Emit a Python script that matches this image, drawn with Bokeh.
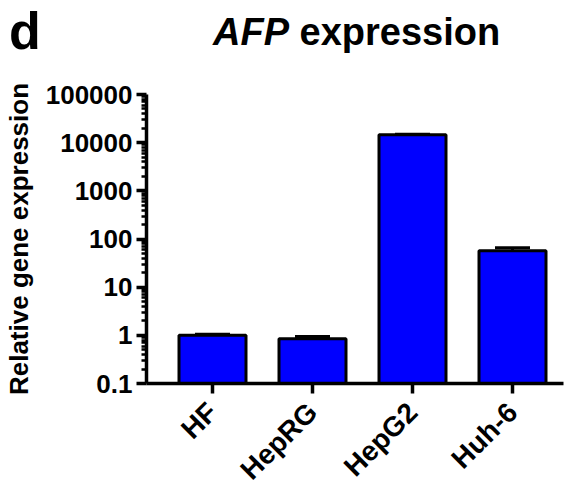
import math
from bokeh.plotting import figure
from bokeh.layouts import column
from bokeh.models import (ColumnDataSource, FixedTicker, CustomJSTickFormatter,
                          Range1d, Whisker, TeeHead, Div)
from bokeh.embed import file_html
from bokeh.resources import INLINE

categories = ["HF", "HepRG", "HepG2", "Huh-6"]
means = [1.0, 0.85, 14600, 57]
errors = [0.05, 0.1, 400, 9]
y_ticks = [0.1, 1, 10, 100, 1000, 10000, 100000]

panel_letter = "d"
title_italic = "AFP"
title_rest = "expression"

FONT = "Liberation Sans"
W = 564
TOP_H = 76

# ---- title strip (HTML text) -------------------------------------------
html = (
    f'<div style="position:relative;width:{W}px;height:{TOP_H}px;'
    f'font-family:\'{FONT}\';font-weight:bold;color:black;line-height:normal;">'
    f'<span style="position:absolute;left:9px;top:1px;font-size:52px;'
    f'white-space:nowrap;">{panel_letter}</span>'
    f'<span style="position:absolute;left:213px;top:11px;font-size:38px;'
    f'white-space:nowrap;"><i>{title_italic}</i> {title_rest}</span>'
    f'</div>'
)
top = Div(text=html, width=W, height=TOP_H, margin=(0, 0, 0, 0))

# ---- chart ---------------------------------------------------------------
xs = list(range(len(categories)))
tops = [m + e for m, e in zip(means, errors)]
src = ColumnDataSource(dict(x=xs, mean=means, top=tops))

p = figure(frame_width=417, frame_height=289, y_axis_type="log",
           x_range=Range1d(-0.66, 3.51), y_range=Range1d(0.1, 100000),
           output_backend="svg", toolbar_location=None,
           min_border_left=143, min_border_right=4,
           min_border_top=18, min_border_bottom=96)

p.vbar(x="x", top="mean", bottom=0.1, width=0.67, source=src,
       fill_color="#0000FF", line_color="black", line_width=3)

w = Whisker(source=src, base="x", upper="top", lower="mean", dimension="height",
            line_color="black", line_width=3,
            upper_head=TeeHead(size=35, line_width=3, line_color="black"),
            lower_head=None, level="glyph")
p.add_layout(w)

p.xgrid.visible = False
p.ygrid.visible = False
p.outline_line_color = None

minor = [t * k for t in y_ticks[:-1] for k in range(2, 10)]
p.yaxis.ticker = FixedTicker(ticks=y_ticks, minor_ticks=minor)
p.yaxis.formatter = CustomJSTickFormatter(code="return tick.toString();")
p.xaxis.ticker = FixedTicker(ticks=xs)
p.xaxis.major_label_overrides = {i: c for i, c in enumerate(categories)}
p.xaxis.major_label_orientation = math.pi / 4
p.xaxis.minor_tick_line_color = None

for ax in (p.xaxis, p.yaxis):
    ax.axis_line_width = 3.5
    ax.axis_line_color = "black"
    ax.major_tick_line_width = 3.5
    ax.major_tick_line_color = "black"
    ax.major_tick_out = 10
    ax.major_tick_in = 0
    ax.major_label_text_font = FONT
    ax.major_label_text_font_style = "bold"
    ax.major_label_text_color = "black"

p.yaxis.major_label_text_font_size = "26px"
p.xaxis.major_label_text_font_size = "28px"
p.yaxis.major_label_standoff = 4
p.xaxis.major_label_standoff = 14

p.yaxis.minor_tick_out = 5
p.yaxis.minor_tick_in = 0
p.yaxis.minor_tick_line_width = 2.5
p.yaxis.minor_tick_line_color = "black"

p.yaxis.axis_label = "Relative gene expression"
p.yaxis.axis_label_text_font = FONT
p.yaxis.axis_label_text_font_style = "bold"
p.yaxis.axis_label_text_font_size = "26px"
p.yaxis.axis_label_text_color = "black"
p.yaxis.axis_label_standoff = 9

layout = column(top, p, spacing=0)
open("out.html", "w").write(file_html(layout, INLINE))
